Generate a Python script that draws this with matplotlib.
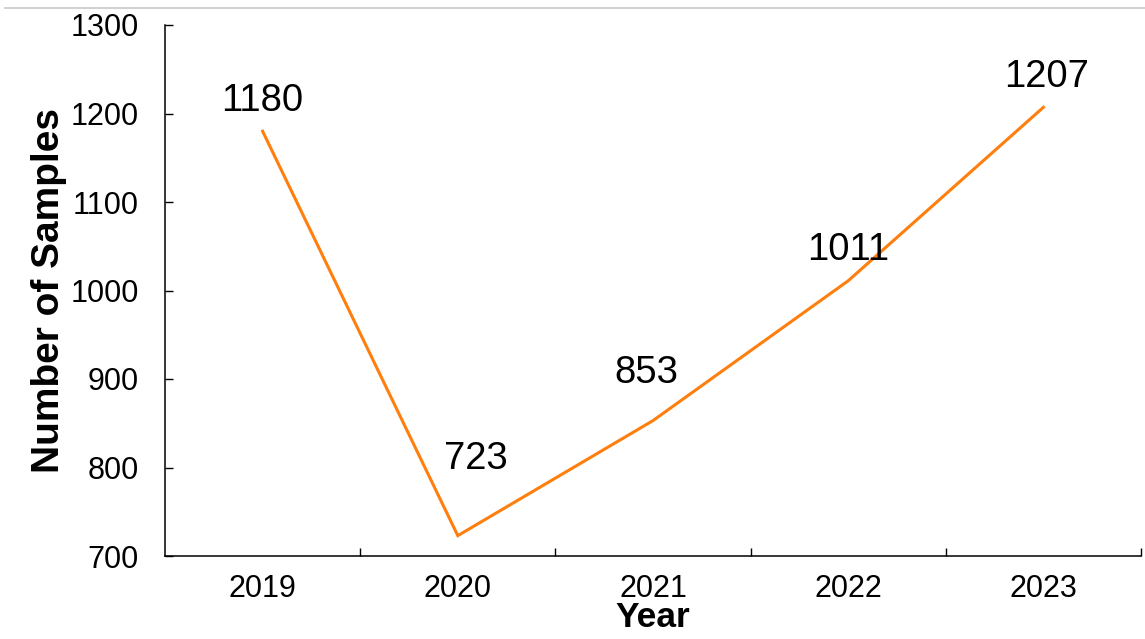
import matplotlib
matplotlib.use("Agg")
import matplotlib.pyplot as plt
from matplotlib.lines import Line2D
import numpy as np

years = ["2019", "2020", "2021", "2022", "2023"]
samples = [1180, 723, 853, 1011, 1207]

# label offsets in pixels (dx, dy), screen coords
label_offsets = [(0, 30), (18, 77), (-7, 48), (0, 31), (3, 30)]

plt.rcParams['font.family'] = ['Liberation Sans', 'DejaVu Sans']

W, H = 1145, 639
fig = plt.figure(figsize=(W / 100, H / 100), dpi=100)
ax = fig.add_axes([165 / W, 1 - 556 / H, (1141 - 165) / W, (556 - 25) / H])

x = np.arange(len(years))
ax.plot(x, samples, color="#FF7F0E", lw=2.2, solid_joinstyle="miter")

for xi, v, (dx, dy) in zip(x, samples, label_offsets):
    ax.annotate(str(v), (xi, v), xytext=(dx * 0.72, dy * 0.72), textcoords="offset points",
                ha="center", va="center", fontsize=27.5, color="black")

ax.set_xlim(-0.5, len(years) - 0.5)
ax.set_ylim(700, 1300)
ax.set_yticks(range(700, 1301, 100))
ax.set_xticks(x)
ax.set_xticklabels(years)
# tick marks sit between categories, like Excel
ax.set_xticks(np.arange(0.5, len(years), 1.0), minor=True)

ax.tick_params(axis="y", direction="in", length=6, width=1, labelsize=22, pad=19)
ax.tick_params(axis="x", which="major", length=0, labelsize=22, pad=13)
ax.tick_params(axis="x", which="minor", direction="in", length=6, width=1)

for s in ["top", "right"]:
    ax.spines[s].set_visible(False)
for s in ["left", "bottom"]:
    ax.spines[s].set_linewidth(1.1)

ax.set_ylabel("Number of Samples", fontsize=28, fontweight="bold", labelpad=2)
ax.set_xlabel("Year", fontsize=25.5, fontweight="bold", labelpad=-2)

fig.add_artist(Line2D([5 / W, 1], [1 - 8 / H, 1 - 8 / H], color="#c8c8c8", lw=1.2,
                      transform=fig.transFigure))

fig.savefig("out.png", dpi=100, facecolor="white")
